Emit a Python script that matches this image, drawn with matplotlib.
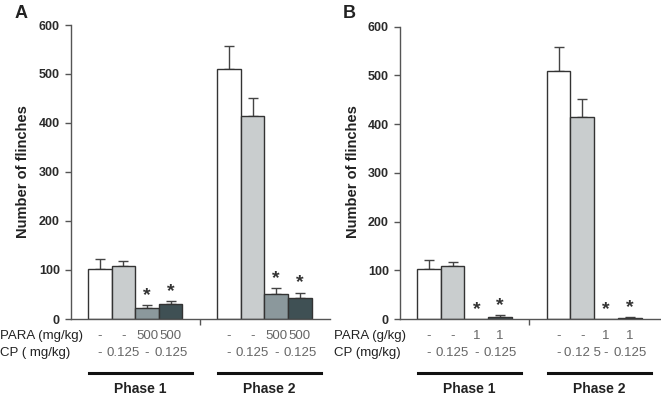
import matplotlib
matplotlib.use("Agg")
import matplotlib.pyplot as plt
from matplotlib.transforms import blended_transform_factory
from matplotlib.lines import Line2D
import numpy as np

plt.rcParams['font.family'] = ['Liberation Sans', 'DejaVu Sans']

# ---- data ----
phases = ["Phase 1", "Phase 2"]
a_means = [[102, 108, 22, 31], [510, 415, 52, 43]]
a_errs = [[20, 10, 7, 6], [48, 37, 12, 11]]
a_sig = [[False, False, True, True], [False, False, True, True]]
b_means = [[102, 108, 0, 5], [510, 415, 0, 3]]
b_errs = [[20, 10, 0, 4], [48, 37, 0, 2]]
b_sig = [[False, False, True, True], [False, False, True, True]]
a_row1_label = "PARA (mg/kg)"
a_row2_label = "CP ( mg/kg)"
a_row1 = [["-", "-", "500", "500"], ["-", "-", "500", "500"]]
a_row2 = [["-", "0.125", "-", "0.125"], ["-", "0.125", "-", "0.125"]]
b_row1_label = "PARA (g/kg)"
b_row2_label = "CP (mg/kg)"
b_row1 = [["-", "-", "1", "1"], ["-", "-", "1", "1"]]
b_row2 = [["-", "0.125", "-", "0.125"], ["-", "0.12 5", "-", "0.125"]]
yticks = [0, 100, 200, 300, 400, 500, 600]

colors = ["#ffffff", "#c9cdce", "#8b989c", "#3f5054"]
edge = "#333333"

W, H = 661, 398
fig = plt.figure(figsize=(W / 100, H / 100), dpi=100)

group_starts = [0.0, 5.47]


def panel(left_px, right_px, top_px, letter, letter_x, means, errs, sig,
          r1lab, r2lab, r1, r2, lab_x, ylab_right):
    bottom_px = 319
    ax = fig.add_axes([left_px / W, 1 - bottom_px / H,
                       (right_px - left_px) / W, (bottom_px - top_px) / H])
    for g in range(2):
        xs = group_starts[g] + np.arange(4) + 0.5
        ax.bar(xs, means[g], width=1.0, color=colors, edgecolor=edge,
               linewidth=1.0, zorder=2)
        for i in range(4):
            if errs[g][i] > 0:
                ax.errorbar(xs[i], means[g][i], yerr=[[0], [errs[g][i]]],
                            fmt="none", ecolor="#444444", elinewidth=1.0,
                            capsize=3.5, capthick=1.0, zorder=1)
            if sig[g][i]:
                ax.text(xs[i], means[g][i] + errs[g][i] + 2, "*",
                        ha="center", va="bottom", fontsize=14,
                        fontweight="bold", color="#333333")
    ax.set_xlim(-0.72, 10.25)
    ax.set_ylim(0, 600)
    ax.set_yticks(yticks)
    ax.set_yticklabels([str(t) for t in yticks], fontsize=9,
                       fontweight="bold", color="#2a2a2a")
    ax.set_xticks([4.73])
    ax.set_xticklabels([])
    ax.tick_params(axis="y", direction="out", length=4, width=1,
                   color="#555555", pad=4)
    ax.tick_params(axis="x", direction="out", length=4, width=1,
                   color="#555555")
    for s in ["top", "right"]:
        ax.spines[s].set_visible(False)
    for s in ["left", "bottom"]:
        ax.spines[s].set_color("#555555")
        ax.spines[s].set_linewidth(1.0)
    ax.set_ylabel("Number of flinches", fontsize=10.5, fontweight="bold",
                  color="#222222")
    ax.yaxis.set_label_coords((ylab_right - left_px) / (right_px - left_px),
                              (bottom_px - 172) / (bottom_px - top_px))
    tr = blended_transform_factory(ax.transData, fig.transFigure)
    y1 = 1 - 336 / H
    y2 = 1 - 353 / H
    fig.text(lab_x / W, y1, r1lab, fontsize=9.5, color="#222222",
             ha="left", va="center")
    fig.text(lab_x / W, y2, r2lab, fontsize=9.5, color="#222222",
             ha="left", va="center")
    for g in range(2):
        xs = group_starts[g] + np.arange(4) + 0.5
        for i in range(4):
            ax.text(xs[i], y1, r1[g][i], transform=tr, ha="center",
                    va="center", fontsize=9.5, color="#666666")
            ax.text(xs[i], y2, r2[g][i], transform=tr, ha="center",
                    va="center", fontsize=9.5, color="#666666")
        x0 = group_starts[g]
        ln = Line2D([x0 + 0.05, x0 + 4.4], [1 - 373 / H] * 2, transform=tr,
                    color="#111111", linewidth=2.2, clip_on=False)
        ax.add_line(ln)
        ax.text(x0 + 2.2, 1 - 389 / H, phases[g], transform=tr, ha="center",
                va="center", fontsize=10, fontweight="bold", color="#222222")
    fig.text(letter_x / W, 1 - 13 / H, letter, fontsize=13,
             fontweight="bold", color="#222222", ha="left", va="center")
    return ax


panel(71, 330, 25, "A", 15, a_means, a_errs, a_sig,
      a_row1_label, a_row2_label, a_row1, a_row2, 0, 30)
panel(400, 660, 26.7, "B", 343, b_means, b_errs, b_sig,
      b_row1_label, b_row2_label, b_row1, b_row2, 334, 360)

fig.savefig("out.png", dpi=100)
